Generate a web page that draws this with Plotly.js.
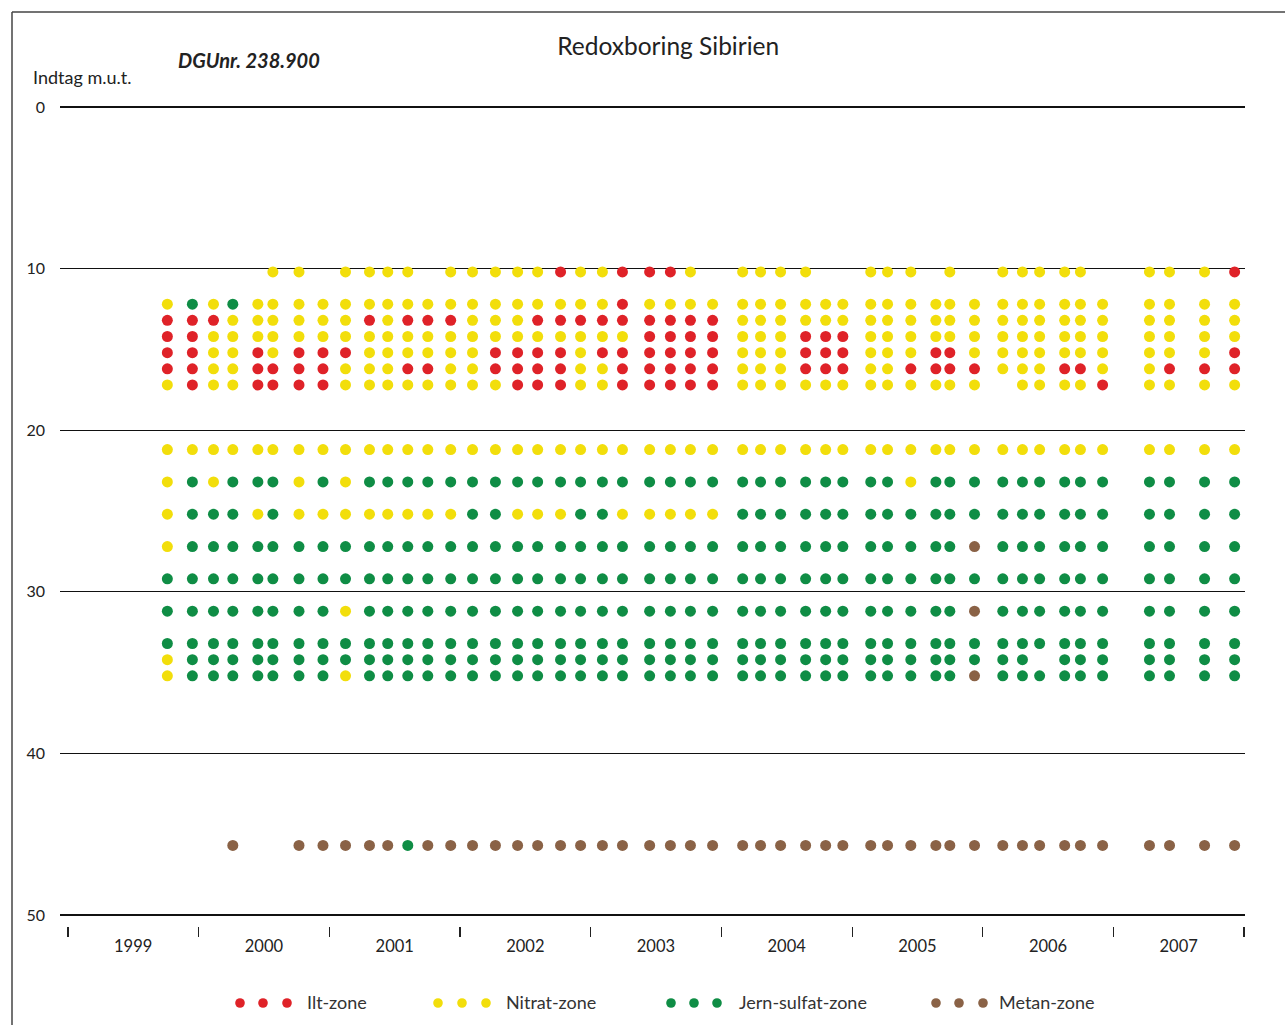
<!DOCTYPE html>
<html><head><meta charset="utf-8">
<script src="https://cdn.plot.ly/plotly-3.0.1.min.js"></script>
<style>html,body{margin:0;padding:0;background:#fff}#chart{width:1285px;height:1025px}</style>
</head><body><div id="chart"></div>
<script>
// Depth of each intake (m below surface), top to bottom
const depths = [10.2, 12.2, 13.2, 14.2, 15.2, 16.2, 17.2, 21.2, 23.2, 25.2, 27.2, 29.2, 31.2, 33.2, 34.2, 35.2, 45.7];

// Sampling rounds
const sampleDates = [
  "1999-10-06","1999-12-15","2000-02-12","2000-04-06","2000-06-15","2000-07-27","2000-10-08","2000-12-14",
  "2001-02-15","2001-04-23","2001-06-13","2001-08-08","2001-10-03","2001-12-06",
  "2002-02-05","2002-04-10","2002-06-11","2002-08-06","2002-10-09","2002-12-04",
  "2003-02-03","2003-03-31","2003-06-15","2003-08-12","2003-10-07","2003-12-08",
  "2004-03-01","2004-04-20","2004-06-15","2004-08-24","2004-10-19","2004-12-06",
  "2005-02-22","2005-04-10","2005-06-14","2005-08-23","2005-10-01","2005-12-09",
  "2006-02-26","2006-04-22","2006-06-09","2006-08-18","2006-10-01","2006-12-02",
  "2007-04-12","2007-06-07","2007-09-13","2007-12-06"
];

// Zone per depth for each round: R = Ilt, Y = Nitrat, G = Jern-sulfat, B = Metan, . = no sample
const zoneCodes = [
  ".YRRRRYYYYYGGGYY.", ".GRRRRRYGGGGGGGG.", ".YRYYYYYYGGGGGGG.", ".GYYYYYYGGGGGGGGB",
  ".YYYRRRYGYGGGGGG.", "YYYYYRRYGGGGGGGG.", "YYYYRRRYYYGGGGGGB", ".YYYRRRYGYGGGGGGB",
  "YYYYRYYYYYGGYGGYB", "YYRYYYYYGYGGGGGGB", "YYYYYYYYGYGGGGGGB", "YYRYYRYYGYGGGGGGG",
  ".YRYYRYYGYGGGGGGB", "YYRYYYYYGYGGGGGGB", "YYYYYYYYGGGGGGGGB", "YYYYRRYYGGGGGGGGB",
  "YYYYRRRYGYGGGGGGB", "YYRYRRRYGYGGGGGGB", "RYRYRRRYGYGGGGGGB", "YYRYYYYYGGGGGGGGB",
  "YYRYRYYYGGGGGGGGB", "RRRYRRRYGYGGGGGGB", "RYRRRRRYGYGGGGGGB", "RYRRRRRYGYGGGGGGB",
  "YYRRRRRYGYGGGGGGB", ".YRRRRRYGYGGGGGGB", "YYYYYYYYGGGGGGGGB", "YYYYYYYYGGGGGGGGB",
  "YYYYYYYYGGGGGGGGB", "YYYRRRYYGGGGGGGGB", ".YYRRRYYGGGGGGGGB", ".YYRRRYYGGGGGGGGB",
  "YYYYYYYYGGGGGGGGB", "YYYYYYYYGGGGGGGGB", "YYYYYRYYYGGGGGGGB", ".YYYRRYYGGGGGGGGB",
  "YYYYRRYYGGGGGGGGB", ".YYYYRYYGGBGBGGBB", "YYYYYY.YGGGGGGGGB", "YYYYYYYYGGGGGGGGB",
  "YYYYYYYYGGGGGG.GB", "YYYYYRYYGGGGGGGGB", "YYYYYRYYGGGGGGGGB", ".YYYYYRYGGGGGGGGB",
  "YYYYYYYYGGGGGGGGB", "YYYYYRYYGGGGGGGGB", "YYYYYRYYGGGGGGGGB", "RYYYRRYYGGGGGGGGB"
];

const zoneKeys = ["R", "Y", "G", "B"];
const zoneLabels = ["Ilt-zone", "Nitrat-zone", "Jern-sulfat-zone", "Metan-zone"];
const yTicks = [0, 10, 20, 30, 40, 50];

const zoneColors = {R: "#DF2228", Y: "#F2DE0B", G: "#0F8D45", B: "#8A6246"};

const traces = zoneKeys.map((k, i) => {
  const x = [], y = [];
  sampleDates.forEach((d, c) => {
    const codes = zoneCodes[c];
    for (let r = 0; r < depths.length; r++) {
      if (codes[r] === k) { x.push(d); y.push(depths[r]); }
    }
  });
  return {type: "scatter", mode: "markers", name: zoneLabels[i], x, y,
    marker: {color: zoneColors[k], size: 11, line: {width: 0}}, hoverinfo: "x+y+name"};
});

// pixel helpers (plot paper: left 60, width 1185, top 99, height 827)
const L = 60, W = 1185, T = 99, H = 827;
const px = v => (v - L) / W;
const py = v => (T + H - v) / H;

const shapes = [
  {type: "line", xref: "paper", yref: "paper", x0: px(12), x1: px(12), y0: py(12), y1: py(1040), line: {color: "#444", width: 1.5}},
  {type: "line", xref: "paper", yref: "paper", x0: px(12), x1: px(1300), y0: py(12), y1: py(12), line: {color: "#444", width: 1.5}}
];
const legendDots = [[240, 263, 287], [438, 462, 486], [671, 694, 717], [936, 959, 983]];
const legendText = [305, 504, 737, 997];
const annotations = [
  {text: "Indtag m.u.t.", xref: "paper", yref: "paper", x: px(31), y: py(77), xanchor: "left", yanchor: "middle", showarrow: false, font: {size: 18, color: "#222"}},
  {text: "<b><i>DGUnr. 238.900</i></b>", xref: "paper", yref: "paper", x: px(176), y: py(60), xanchor: "left", yanchor: "middle", showarrow: false, font: {size: 20, color: "#222"}}
];
zoneKeys.forEach((k, i) => {
  legendDots[i].forEach(cx => shapes.push({type: "circle", xref: "paper", yref: "paper",
    xsizemode: "pixel", ysizemode: "pixel", xanchor: px(cx), yanchor: py(1003),
    x0: -4.8, x1: 4.8, y0: -4.8, y1: 4.8, fillcolor: zoneColors[k], line: {width: 0}}));
  annotations.push({text: zoneLabels[i], xref: "paper", yref: "paper", x: px(legendText[i]), y: py(1002),
    xanchor: "left", yanchor: "middle", showarrow: false, font: {size: 18, color: "#333"}});
});

const layout = {
  width: 1285, height: 1025,
  margin: {l: L, r: 1285 - L - W, t: T, b: 1025 - T - H, pad: 0},
  paper_bgcolor: "#fff", plot_bgcolor: "#fff",
  font: {family: "Lato, 'Open Sans', sans-serif", size: 16, color: "#222"},
  title: {text: "Redoxboring Sibirien", x: 0.52, xanchor: "center", y: 1 - 46 / 1025, yanchor: "middle", font: {size: 24.5, color: "#222"}},
  showlegend: false,
  xaxis: {type: "date", range: ["1998-12-10", "2008-01-04"], tick0: "1999-01-01", dtick: "M12", tickformat: "%Y",
    ticklabelmode: "period", ticks: "outside", ticklen: 10, tickwidth: 1.3, tickcolor: "#222",
    showgrid: false, zeroline: false, showline: false, anchor: "free", position: 0, tickfont: {size: 16.5},
    ticklabelstandoff: -5},
  yaxis: {range: [50.5, -0.5], domain: [3 / H, 1], tickmode: "array", tickvals: yTicks, ticktext: yTicks.map(String),
    showgrid: true, gridcolor: "#111", gridwidth: 1.2, zeroline: false, showline: false, ticks: "",
    ticklabelstandoff: 14, tickfont: {size: 16}},
  shapes, annotations
};

Plotly.newPlot("chart", traces, layout, {displayModeBar: false, staticPlot: true});
</script></body></html>
